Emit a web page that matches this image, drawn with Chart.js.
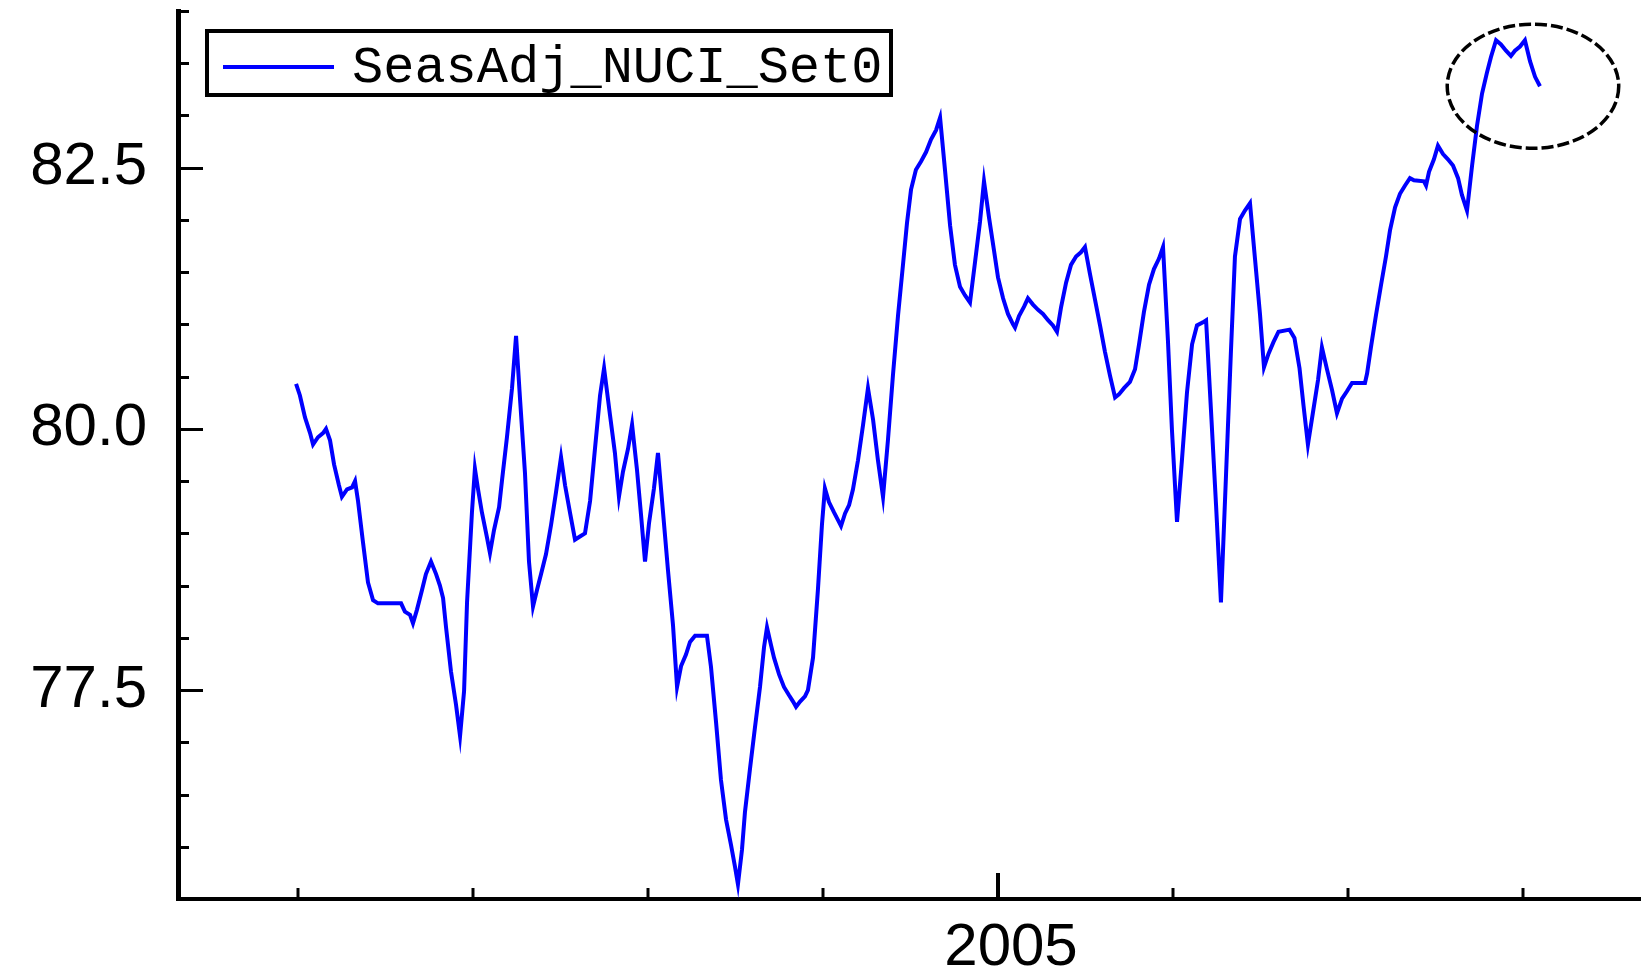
<!DOCTYPE html>
<html>
<head>
<meta charset="utf-8">
<script src="https://cdn.jsdelivr.net/npm/chart.js@4.4.0/dist/chart.umd.min.js"></script>
<style>
  html, body { margin: 0; padding: 0; background: #fff; }
  #wrap { width: 1641px; height: 974px; position: relative; }
</style>
</head>
<body>
<div id="wrap"><canvas id="chartjs-nuci"></canvas></div>
<script>
const seriesName = "SeasAdj_NUCI_Set0";

// decimal years
const years = [
  2000.989, 2001.011, 2001.040, 2001.069, 2001.086, 2001.114, 2001.143, 2001.160, 2001.183, 2001.206,
  2001.234, 2001.251, 2001.280, 2001.309, 2001.326, 2001.343, 2001.371, 2001.400, 2001.429, 2001.457,
  2001.589, 2001.611, 2001.640, 2001.657, 2001.680, 2001.709, 2001.731, 2001.760, 2001.789, 2001.811,
  2001.829, 2001.846, 2001.874, 2001.903, 2001.926, 2001.949, 2001.966, 2001.994, 2002.011, 2002.029,
  2002.051, 2002.080, 2002.097, 2002.120, 2002.149, 2002.166, 2002.194, 2002.223, 2002.246, 2002.269,
  2002.297, 2002.320, 2002.343, 2002.366, 2002.389, 2002.417, 2002.446, 2002.474, 2002.503, 2002.526,
  2002.554, 2002.583, 2002.611, 2002.640, 2002.669, 2002.697, 2002.726, 2002.749, 2002.783, 2002.811,
  2002.834, 2002.857, 2002.886, 2002.909, 2002.937, 2002.960, 2002.983, 2003.006, 2003.034, 2003.057,
  2003.086, 2003.114, 2003.143, 2003.166, 2003.189, 2003.217, 2003.240, 2003.269, 2003.337, 2003.360,
  2003.389, 2003.417, 2003.446, 2003.474, 2003.497, 2003.514, 2003.537, 2003.554, 2003.583, 2003.611,
  2003.640, 2003.663, 2003.680, 2003.703, 2003.720, 2003.749, 2003.777, 2003.806, 2003.829, 2003.846,
  2003.869, 2003.897, 2003.914, 2003.943, 2003.971, 2003.994, 2004.011, 2004.034, 2004.063, 2004.091,
  2004.103, 2004.126, 2004.149, 2004.171, 2004.200, 2004.229, 2004.257, 2004.286, 2004.314, 2004.343,
  2004.371, 2004.400, 2004.429, 2004.457, 2004.480, 2004.503, 2004.531, 2004.560, 2004.589, 2004.617,
  2004.646, 2004.669, 2004.697, 2004.726, 2004.754, 2004.783, 2004.811, 2004.840, 2004.869, 2004.897,
  2004.920, 2004.949, 2004.977, 2005.000, 2005.029, 2005.057, 2005.086, 2005.097, 2005.120, 2005.149,
  2005.171, 2005.200, 2005.229, 2005.257, 2005.286, 2005.314, 2005.337, 2005.360, 2005.389, 2005.417,
  2005.446, 2005.474, 2005.497, 2005.526, 2005.554, 2005.583, 2005.611, 2005.640, 2005.669, 2005.691,
  2005.720, 2005.754, 2005.783, 2005.806, 2005.834, 2005.863, 2005.891, 2005.920, 2005.943, 2005.971,
  2005.994, 2006.023, 2006.051, 2006.080, 2006.109, 2006.137, 2006.171, 2006.189, 2006.217, 2006.246,
  2006.274, 2006.303, 2006.331, 2006.354, 2006.383, 2006.411, 2006.440, 2006.469, 2006.497, 2006.520,
  2006.546, 2006.574, 2006.603, 2006.666, 2006.694, 2006.723, 2006.746, 2006.771, 2006.800, 2006.829,
  2006.851, 2006.880, 2006.909, 2006.937, 2006.966, 2006.994, 2007.023, 2007.097, 2007.109, 2007.131,
  2007.160, 2007.189, 2007.217, 2007.240, 2007.269, 2007.297, 2007.326, 2007.354, 2007.377, 2007.434,
  2007.446, 2007.463, 2007.491, 2007.514, 2007.543, 2007.571, 2007.600, 2007.629, 2007.651, 2007.680,
  2007.709, 2007.737, 2007.766, 2007.794, 2007.817, 2007.846, 2007.874, 2007.903, 2007.931, 2007.954,
  2007.983, 2008.011, 2008.040, 2008.069, 2008.097
];

const nuci = [
  80.43, 80.32, 80.11, 79.96, 79.85, 79.92, 79.96, 80.00, 79.89, 79.66,
  79.46, 79.35, 79.42, 79.44, 79.50, 79.31, 78.92, 78.53, 78.36, 78.33,
  78.33, 78.25, 78.22, 78.14, 78.27, 78.46, 78.61, 78.73, 78.61, 78.50,
  78.38, 78.10, 77.68, 77.36, 77.06, 77.49, 78.34, 79.20, 79.62, 79.42,
  79.20, 78.96, 78.81, 79.03, 79.25, 79.51, 79.92, 80.39, 80.89, 80.28,
  79.58, 78.73, 78.30, 78.46, 78.61, 78.80, 79.08, 79.39, 79.73, 79.46,
  79.20, 78.94, 78.97, 79.00, 79.31, 79.81, 80.32, 80.58, 80.13, 79.77,
  79.35, 79.59, 79.81, 80.04, 79.61, 79.18, 78.73, 79.10, 79.43, 79.77,
  79.20, 78.65, 78.12, 77.53, 77.73, 77.84, 77.96, 78.02, 78.02, 77.72,
  77.19, 76.64, 76.26, 76.02, 75.81, 75.64, 75.97, 76.33, 76.75, 77.14,
  77.53, 77.91, 78.10, 77.93, 77.81, 77.65, 77.53, 77.45, 77.39, 77.34,
  77.39, 77.44, 77.50, 77.81, 78.46, 79.08, 79.43, 79.30, 79.20, 79.11,
  79.07, 79.19, 79.27, 79.42, 79.70, 80.04, 80.39, 80.09, 79.70, 79.35,
  79.89, 80.52, 81.09, 81.57, 81.97, 82.29, 82.48, 82.56, 82.65, 82.77,
  82.86, 82.98, 82.48, 81.95, 81.57, 81.36, 81.28, 81.21, 81.60, 81.98,
  82.37, 82.02, 81.71, 81.45, 81.25, 81.10, 81.00, 80.97, 81.08, 81.17,
  81.25, 81.19, 81.14, 81.10, 81.04, 80.99, 80.93, 81.16, 81.40, 81.57,
  81.65, 81.69, 81.74, 81.48, 81.24, 80.99, 80.74, 80.51, 80.30, 80.33,
  80.39, 80.45, 80.57, 80.81, 81.12, 81.38, 81.53, 81.63, 81.74, 80.85,
  79.99, 79.11, 79.70, 80.35, 80.81, 80.99, 81.02, 81.04, 80.18, 79.27,
  78.34, 79.56, 80.74, 81.65, 82.01, 82.09, 82.16, 81.62, 81.10, 80.59,
  80.72, 80.83, 80.93, 80.95, 80.87, 80.58, 80.22, 79.85, 80.16, 80.47,
  80.78, 80.57, 80.37, 80.15, 80.29, 80.36, 80.44, 80.44, 80.53, 80.78,
  81.09, 81.38, 81.65, 81.90, 82.12, 82.25, 82.33, 82.40, 82.38, 82.37,
  82.33, 82.46, 82.58, 82.71, 82.63, 82.58, 82.52, 82.40, 82.24, 82.09,
  82.52, 82.90, 83.21, 83.41, 83.56, 83.72, 83.68, 83.62, 83.57, 83.62,
  83.66, 83.72, 83.52, 83.37, 83.28
];

const yTickLabels = [77.5, 80.0, 82.5];
const xTickLabels = [2005];

// ring around the latest peak, centre and half sizes in data units
const ring = { year: 2008.057, value: 83.28, halfYears: 0.49, halfValue: 0.594 };

const axisFont = { family: "'Liberation Sans', Arial, sans-serif", size: 60 };

// tick marks pointing into the plot, long ones where there is a label
const insideTicks = {
  id: "insideTicks",
  afterDraw(chart) {
    const { ctx, chartArea, scales: { x, y } } = chart;
    ctx.save();
    ctx.strokeStyle = "#000";
    y.ticks.forEach(t => {
      if (t.value <= y.min) return;
      const py = Math.round(y.getPixelForValue(t.value)) + 0.5;
      const len = yTickLabels.includes(t.value) ? 25 : 11;
      ctx.lineWidth = 3;
      ctx.beginPath();
      ctx.moveTo(chartArea.left, py);
      ctx.lineTo(chartArea.left + len, py);
      ctx.stroke();
    });
    x.ticks.forEach(t => {
      const px = Math.round(x.getPixelForValue(t.value));
      const major = xTickLabels.includes(t.value);
      ctx.lineWidth = major ? 4 : 3;
      ctx.beginPath();
      ctx.moveTo(px, chartArea.bottom);
      ctx.lineTo(px, chartArea.bottom - (major ? 26 : 11));
      ctx.stroke();
    });
    ctx.restore();
  }
};

const ringPlugin = {
  id: "ringPlugin",
  afterDatasetsDraw(chart) {
    const { ctx, scales: { x, y } } = chart;
    const cx = x.getPixelForValue(ring.year);
    const cy = y.getPixelForValue(ring.value);
    const rx = x.getPixelForValue(ring.year + ring.halfYears) - cx;
    const ry = cy - y.getPixelForValue(ring.value + ring.halfValue);
    ctx.save();
    ctx.strokeStyle = "#000";
    ctx.lineWidth = 3.5;
    ctx.setLineDash([12, 4]);
    ctx.beginPath();
    ctx.ellipse(cx, cy, rx, ry, 0, 0, Math.PI * 2);
    ctx.stroke();
    ctx.restore();
  }
};

// boxed legend in the top left corner
const boxLegend = {
  id: "boxLegend",
  afterDraw(chart) {
    const ctx = chart.ctx;
    const ds = chart.data.datasets[0];
    ctx.save();
    ctx.fillStyle = "#fff";
    ctx.fillRect(205, 29, 688, 68);
    ctx.strokeStyle = "#000";
    ctx.lineWidth = 4;
    ctx.strokeRect(207, 31, 684, 64);
    ctx.strokeStyle = ds.borderColor;
    ctx.beginPath();
    ctx.moveTo(223, 67);
    ctx.lineTo(334, 67);
    ctx.stroke();
    ctx.fillStyle = "#000";
    ctx.font = "52px 'Liberation Mono', 'DejaVu Sans Mono', monospace";
    ctx.textBaseline = "alphabetic";
    ctx.fillText(ds.label, 352, 82);
    ctx.restore();
  }
};

new Chart(document.getElementById("chartjs-nuci"), {
  type: "line",
  data: {
    datasets: [
      {
        label: seriesName,
        data: years.map((yr, i) => ({ x: yr, y: nuci[i] })),
        borderColor: "#0000ff",
        borderWidth: 4,
        pointRadius: 0,
        tension: 0,
        fill: false,
      },
    ],
  },
  options: {
    responsive: true,
    maintainAspectRatio: false,
    animation: false,
    layout: { padding: { top: 11, left: 0, right: 0, bottom: 0 } },
    plugins: {
      legend: { display: false },
      tooltip: { enabled: false },
    },
    scales: {
      x: {
        type: "linear",
        min: 2000.3143,
        max: 2008.6743,
        afterFit(s) {
          s.height = 75;
          s.paddingLeft = 0;
          s.paddingRight = 0;
        },
        grid: { drawOnChartArea: false, drawTicks: false },
        border: { color: "#000", width: 4 },
        ticks: {
          stepSize: 1,
          includeBounds: false,
          autoSkip: false,
          maxRotation: 0,
          padding: 13,
          labelOffset: 13,
          color: "#000",
          font: axisFont,
          callback: v => (xTickLabels.includes(v) ? String(v) : ""),
        },
      },
      y: {
        min: 75.5,
        max: 84.0,
        afterFit(s) {
          s.width = 178;
          s.paddingTop = 0;
          s.paddingBottom = 0;
        },
        grid: { drawOnChartArea: false, drawTicks: false },
        border: { color: "#000", width: 5 },
        ticks: {
          stepSize: 0.5,
          autoSkip: false,
          padding: 31,
          color: "#000",
          font: axisFont,
          callback: v => (yTickLabels.includes(v) ? v.toFixed(1) : ""),
        },
      },
    },
  },
  plugins: [insideTicks, ringPlugin, boxLegend],
});
</script>
</body>
</html>
